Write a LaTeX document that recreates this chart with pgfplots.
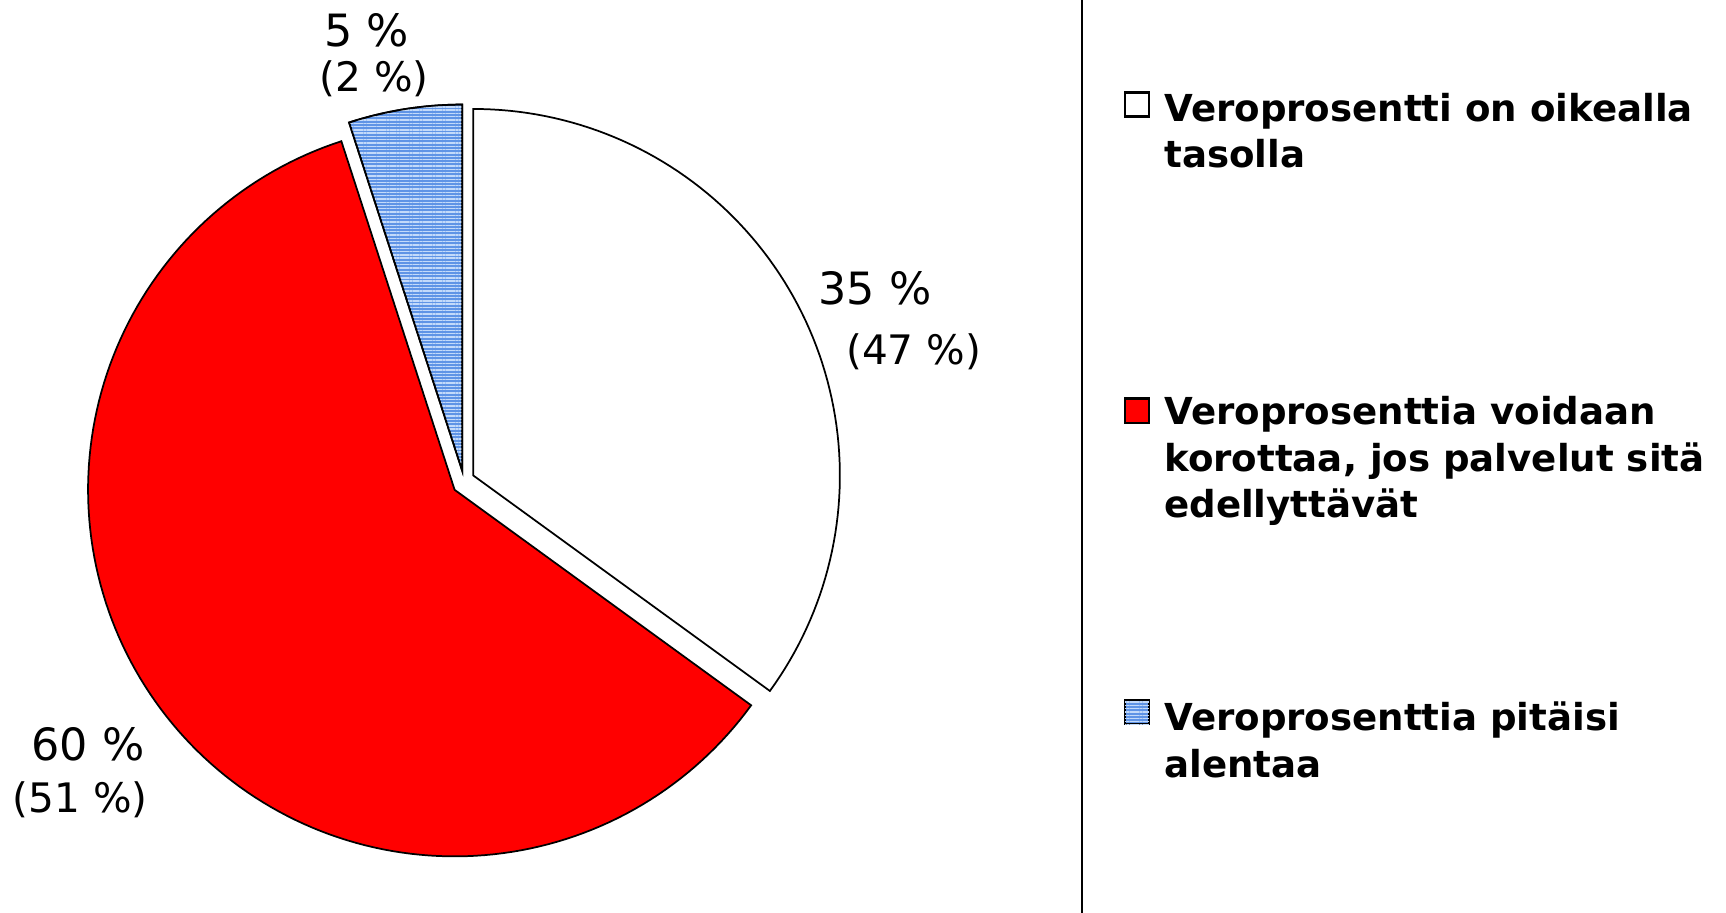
\documentclass[border=0pt]{standalone}
\usepackage{fontspec}
\setmainfont{DejaVu Sans}
\newfontfamily\legfont{DejaVu Sans Bold}
\usepackage{pgfplots}
\pgfplotsset{compat=1.18}
\usetikzlibrary{patterns.meta}
\definecolor{sliceblue}{RGB}{95,148,230}
\definecolor{stripeblue}{RGB}{195,218,250}
\definecolor{slicered}{RGB}{255,0,0}
\tikzset{
  big/.style={font=\fontsize{11.5}{13}\selectfont},
  small/.style={font=\fontsize{10.5}{12}\selectfont},
  leg/.style={anchor=base west, inner sep=0pt, font=\legfont\fontsize{9.6}{11.5}\selectfont},
  stripes/.style={fill=sliceblue, postaction={pattern={Lines[angle=0, distance=0.85pt, line width=0.35pt]}, pattern color=stripeblue}},
}
% data: share (%) of each answer
\def\vA{35}% Veroprosentti on oikealla tasolla
\def\vB{60}% Veroprosenttia voidaan korottaa
\def\vC{5}%  Veroprosenttia pitaisi alentaa
\pgfmathsetmacro{\aA}{90-3.6*\vA}       % white: from \aA to 90
\pgfmathsetmacro{\aB}{\aA+360-3.6*\vB}  % red: from \aB to \aA+360
\pgfmathsetmacro{\aBend}{\aA+360}
\pgfmathsetmacro{\aC}{90+3.6*\vC}       % blue: from 90 to \aC
\begin{document}
\begin{tikzpicture}
\begin{axis}[
  width=156.8mm, height=82.9mm, scale only axis,
  xmin=0, xmax=1568, ymin=0, ymax=829,
  hide axis, clip=false,
]
% white slice
\addplot[draw=black, line width=0.45pt, fill=white, domain=\aA:90, samples=90, variable=\t]
  ({430+333*cos(t)},{397+333*sin(t)}) -- (430,397) -- cycle;
% red slice
\addplot[draw=black, line width=0.45pt, fill=slicered, domain=\aB:\aBend, samples=150, variable=\t]
  ({413+333*cos(t)},{384+333*sin(t)}) -- (413,384) -- cycle;
% blue slice
\addplot[draw=black, line width=0.45pt, stripes, domain=90:\aC, samples=20, variable=\t]
  ({420+333*cos(t)},{401+333*sin(t)}) -- (420,401) -- cycle;

% labels
\node[big] at (333,801) {5 \%};
\node[small] at (340,757) {(2 \%)};
\node[big] at (795,567) {35 \%};
\node[small] at (830,509) {(47 \%)};
\node[big] at (80,153) {60 \%};
\node[small] at (73,102) {(51 \%)};

% separator line
\draw[black, line width=0.5pt] (983,0) -- (983,829);

% legend
\draw[black, line width=0.6pt, fill=white] (1022,723) rectangle (1044,745);
\draw[black, line width=0.6pt, fill=slicered] (1022,445) rectangle (1044,467);
\draw[black, line width=0.6pt, stripes] (1022,171) rectangle (1044,193);
\node[leg] at (1057,719) {Veroprosentti on oikealla};
\node[leg] at (1057,677) {tasolla};
\node[leg] at (1057,443) {Veroprosenttia voidaan};
\node[leg] at (1057,401) {korottaa, jos palvelut sitä};
\node[leg] at (1057,359) {edellyttävät};
\node[leg] at (1057,165) {Veroprosenttia pitäisi};
\node[leg] at (1057,123) {alentaa};
\end{axis}
\pgfresetboundingbox
\useasboundingbox (current axis.south west) rectangle (current axis.north east);
\end{tikzpicture}
\end{document}
